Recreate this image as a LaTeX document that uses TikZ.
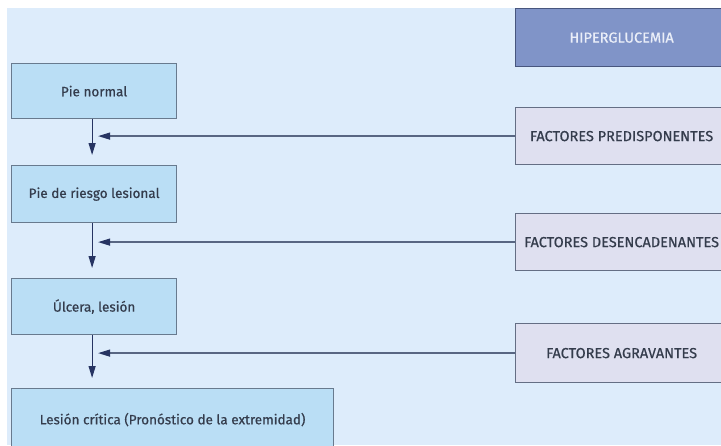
\documentclass[tikz,border=0pt]{standalone}
\usepackage{fontspec}
\setmainfont{Fira Sans}
\newfontfamily\boxfont{Fira Sans}[FakeBold=0.6]
\usetikzlibrary{arrows.meta}
\definecolor{bgblue}{RGB}{221,236,251}
\definecolor{stageblue}{RGB}{186,222,245}
\definecolor{stageedge}{RGB}{104,122,142}
\definecolor{factorlilac}{RGB}{223,224,240}
\definecolor{factoredge}{RGB}{100,110,132}
\definecolor{hyperfill}{RGB}{128,148,200}
\definecolor{hyperedge}{RGB}{72,86,126}
\definecolor{arrownavy}{RGB}{38,52,98}
\definecolor{linegray}{RGB}{88,102,130}
\definecolor{textdark}{RGB}{52,60,76}

\begin{document}
\begin{tikzpicture}[x=1pt, y=-1pt,
    stagebox/.style={draw=stageedge, fill=stageblue, line width=1.2pt, anchor=north west, minimum width=165pt, inner sep=0pt, font=\boxfont\fontsize{13.5}{15}\selectfont, text=textdark},
    factorbox/.style={draw=factoredge, fill=factorlilac, line width=1.2pt, anchor=north west, minimum width=212pt, inner sep=0pt, font=\boxfont\fontsize{14.5}{16}\selectfont, text=textdark},
    flow/.style={draw=arrownavy, line width=1.2pt, shorten >=10pt, -{Triangle[length=12pt,width=7pt]}},
    feed/.style={draw=linegray, line width=1.3pt, -{Triangle[length=12pt,width=7pt,color=arrownavy]}}]
    \useasboundingbox (0,0) rectangle (721,445);
    \clip (0,0) rectangle (721,445);

    % Background
    \fill[bgblue] (7,8) rectangle (721,445);

    % Stages of the foot
    \node[stagebox, minimum height=55pt] (pie) at (11,63) {Pie normal};
    \node[stagebox, minimum height=57pt] (riesgo) at (11,165) {Pie de riesgo lesional};
    \node[stagebox, minimum height=56pt] (ulcera) at (11,278) {Úlcera, lesión};
    \node[stagebox, minimum height=62pt, minimum width=322pt] (critica) at (11,388) {Lesión crítica (Pronóstico de la extremidad)};

    % Factors
    \node[factorbox, minimum height=58pt, draw=hyperedge, fill=hyperfill, text={rgb,255:red,234;green,238;blue,248}] (hiper) at (515,8) {HIPERGLUCEMIA};
    \node[factorbox, minimum height=57pt] (pred) at (515,107) {FACTORES PREDISPONENTES};
    \node[factorbox, minimum height=57pt] (desenc) at (515,213) {FACTORES DESENCADENANTES};
    \node[factorbox, minimum height=59pt] (agrav) at (515,323) {FACTORES AGRAVANTES};

    % Progression
    \draw[flow] ([xshift=-2pt]pie.south) -- ([xshift=-2pt]riesgo.north);
    \draw[flow] ([xshift=-2pt]riesgo.south) -- ([xshift=-2pt]ulcera.north);
    \draw[flow] ([xshift=-2pt]ulcera.south) -- ([xshift=-2pt]critica.north -| ulcera.south);

    % Factor inputs
    \draw[feed] (pred.west) -- ([xshift=4pt]pred.west -| pie.south);
    \draw[feed] (desenc.west) -- ([xshift=4pt]desenc.west -| riesgo.south);
    \draw[feed] (agrav.west) -- ([xshift=4pt]agrav.west -| ulcera.south);
\end{tikzpicture}
\end{document}
